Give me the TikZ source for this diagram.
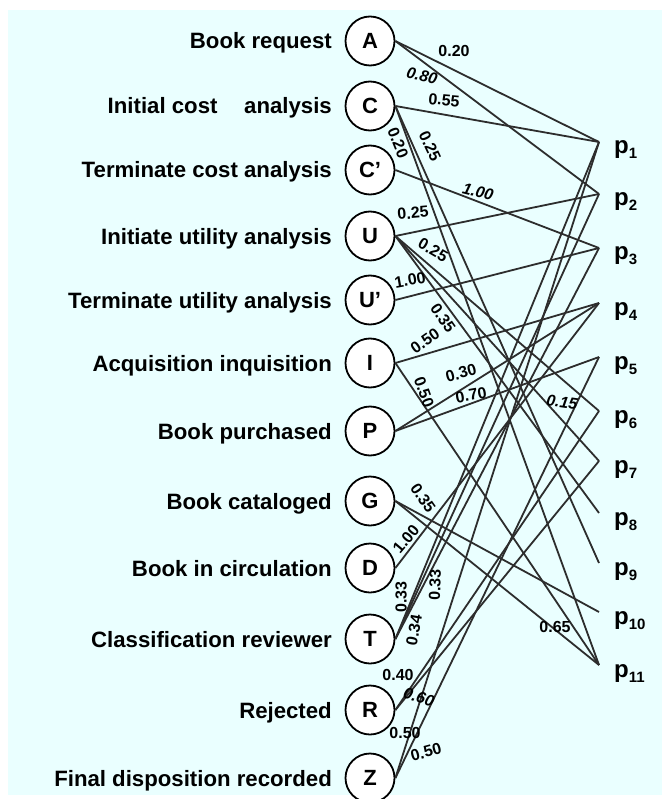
\documentclass[tikz,border=0pt]{standalone}
\usepackage{fontspec}
\setmainfont{Liberation Sans}
\definecolor{bgc}{RGB}{234,255,255}
\definecolor{ln}{RGB}{45,45,45}
\begin{document}
\begin{tikzpicture}[x=1pt,y=-1pt,
  st/.style={circle,draw=black,line width=1.8pt,fill=white,minimum size=49pt,inner sep=0pt,font=\fontsize{22}{24}\selectfont\bfseries},
  lbl/.style={anchor=base east,inner sep=0pt,font=\fontsize{22.2}{24}\selectfont\bfseries},
  pl/.style={anchor=base west,inner sep=0pt,font=\fontsize{24}{26}\selectfont\bfseries},
  wt/.style={inner sep=0pt,font=\fontsize{16}{18}\selectfont\bfseries},
  wti/.style={inner sep=0pt,font=\fontsize{16}{18}\selectfont\bfseries\itshape},
  edge/.style={draw=ln,line width=1.8pt}]
\useasboundingbox (0,0) rectangle (668,799);
\fill[white] (0,0) rectangle (668,799);
\fill[bgc] (8,10) rectangle (662,795);

% state nodes
\node[st] (A) at (370,41) {A};
\node[st] (C) at (370,106) {C};
\node[st] (Cp) at (370,170) {C’};
\node[st] (U) at (370,236) {U};
\node[st] (Up) at (370,300) {U’};
\node[st] (I) at (370,363) {I};
\node[st] (P) at (370,431) {P};
\node[st] (G) at (370,501) {G};
\node[st] (D) at (370,568) {D};
\node[st] (T) at (370,639) {T};
\node[st] (R) at (370,710) {R};
\node[st] (Z) at (370,778) {Z};

% state labels
\node[lbl] (lA) at (332,49) {Book request};
\node[lbl] (lC) at (332,114) {Initial cost\hspace{1.2em}analysis};
\node[lbl] (lCp) at (332,178) {Terminate cost analysis};
\node[lbl] (lU) at (332,244) {Initiate utility analysis};
\node[lbl] (lUp) at (332,308) {Terminate utility analysis};
\node[lbl] (lI) at (332,371) {Acquisition inquisition};
\node[lbl] (lP) at (332,439) {Book purchased};
\node[lbl] (lG) at (332,509) {Book cataloged};
\node[lbl] (lD) at (332,576) {Book in circulation};
\node[lbl] (lT) at (332,647) {Classification reviewer};
\node[lbl] (lR) at (332,718) {Rejected};
\node[lbl] (lZ) at (332,786) {Final disposition recorded};

% transition points
\coordinate (p1) at (599,142);
\coordinate (p2) at (599,194);
\coordinate (p3) at (599,248);
\coordinate (p4) at (599,303);
\coordinate (p5) at (599,357);
\coordinate (p6) at (599,411);
\coordinate (p7) at (599,461);
\coordinate (p8) at (599,513);
\coordinate (p9) at (599,563);
\coordinate (p10) at (599,612);
\coordinate (p11) at (599,665);

\foreach \i/\y in {1/142,2/194,3/248,4/303,5/357,6/411,7/461,8/513,9/563,10/612,11/665}{
  \node[pl] (pl\i) at (614,\y+12) {p\raisebox{-5pt}{\fontsize{15}{15}\selectfont\bfseries \i}};
}

% connectors
\draw[edge] (A.east) -- (p1);
\draw[edge] (A.east) -- (p2);
\draw[edge] (C.east) -- (p1);
\draw[edge] (C.east) -- (p9);
\draw[edge] (C.east) -- (p11);
\draw[edge] (Cp.east) -- (p3);
\draw[edge] (U.east) -- (p2);
\draw[edge] (U.east) -- (p6);
\draw[edge] (U.east) -- (p7);
\draw[edge] (U.east) -- (p8);
\draw[edge] (Up.east) -- (p3);
\draw[edge] (I.east) -- (p4);
\draw[edge] (I.east) -- (p11);
\draw[edge] (P.east) -- (p4);
\draw[edge] (P.east) -- (p5);
\draw[edge] (G.east) -- (p10);
\draw[edge] (G.east) -- (p11);
\draw[edge] (D.east) -- (p4);
\draw[edge] (T.east) -- (p1);
\draw[edge] (T.east) -- (p2);
\draw[edge] (T.east) -- (p3);
\draw[edge] (R.east) -- (p6);
\draw[edge] (R.east) -- (p7);
\draw[edge] (Z.east) -- (p1);
\draw[edge] (Z.east) -- (p5);

% weights
\node[wt] (wA1) at (454,51) {0.20};
\node[wti,rotate=-14] (wA2) at (422,76) {0.80};
\node[wt,rotate=-5] (wC1) at (444,100) {0.55};
\node[wt,rotate=-68] (wC2) at (398,143) {0.20};
\node[wt,rotate=-65] (wC3) at (430,146) {0.25};
\node[wti,rotate=-14] (wCp) at (478,192) {1.00};
\node[wt,rotate=5] (wU1) at (413,213) {0.25};
\node[wt,rotate=-30] (wU2) at (433,250) {0.25};
\node[wt,rotate=-55] (wU3) at (443,318) {0.35};
\node[wti,rotate=-8] (wU4) at (562,402) {0.15};
\node[wt,rotate=10] (wUp) at (410,280) {1.00};
\node[wt,rotate=35] (wI1) at (425,341) {0.50};
\node[wt,rotate=-70] (wI2) at (424,392) {0.50};
\node[wt,rotate=15] (wP1) at (461,373) {0.30};
\node[wt,rotate=10] (wP2) at (471,395) {0.70};
\node[wt,rotate=-55] (wG1) at (423,498) {0.35};
\node[wt] (wG2) at (555,627) {0.65};
\node[wt,rotate=50] (wD) at (406,539) {1.00};
\node[wt,rotate=90] (wT1) at (401,597) {0.33};
\node[wt,rotate=80] (wT2) at (414,630) {0.34};
\node[wt,rotate=88] (wT3) at (435,585) {0.33};
\node[wt] (wR1) at (398,675) {0.40};
\node[wti,rotate=-18] (wR2) at (419,697) {0.60};
\node[wt] (wZ1) at (405,733) {0.50};
\node[wt,rotate=15] (wZ2) at (426,752) {0.50};
\end{tikzpicture}
\end{document}
